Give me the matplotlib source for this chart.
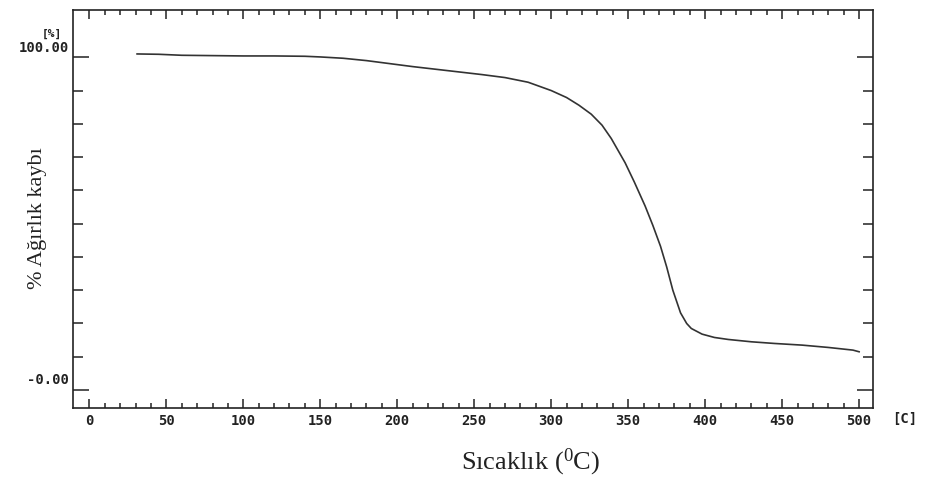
import matplotlib.pyplot as plt
from matplotlib.ticker import FixedLocator, NullFormatter

# TGA curve (temperature in C, weight in %)
temp = [31, 45, 60, 80, 100, 120, 140, 150, 165, 180, 195, 210, 225, 240,
        255, 270, 285, 300, 310, 318, 326, 333, 339, 348, 354, 361, 366,
        371, 375, 379, 384, 388, 391, 398, 406, 415, 430, 445, 463, 480,
        496, 500]
weight = [101.0, 100.9, 100.6, 100.5, 100.4, 100.4, 100.3, 100.1, 99.7,
          99.0, 98.1, 97.2, 96.4, 95.6, 94.8, 93.9, 92.5, 90.0, 87.9, 85.6,
          82.9, 79.6, 75.6, 68.3, 62.5, 55.3, 49.5, 43.2, 37.0, 30.0, 23.2,
          20.0, 18.5, 16.8, 15.8, 15.2, 14.5, 14.0, 13.5, 12.8, 12.0, 11.5]

x_major = list(range(0, 501, 50))
x_minor = list(range(0, 501, 10))
y_major = [0, 100]
y_minor = list(range(10, 100, 10))
y_labels = {100: '100.00', 0: '-0.00'}

ink = '#222222'
mono = dict(family='DejaVu Sans Mono', fontweight='bold', color=ink)

plt.rcParams['mathtext.fontset'] = 'custom'
plt.rcParams['mathtext.rm'] = 'Liberation Serif'

fig = plt.figure(figsize=(9.28, 4.82), dpi=100)
ax = fig.add_axes([0.0787, 0.1535, 0.862, 0.8257])

ax.plot(temp, weight, color='#333333', lw=1.2, solid_joinstyle='round')

ax.set_xlim(-10.6, 509)
ax.set_ylim(-5.4, 114.2)

for s in ax.spines.values():
    s.set_linewidth(1.2)
    s.set_color(ink)

ax.xaxis.set_major_locator(FixedLocator(x_major))
ax.xaxis.set_minor_locator(FixedLocator(x_minor))
ax.yaxis.set_major_locator(FixedLocator(y_major))
ax.yaxis.set_minor_locator(FixedLocator(y_minor))
ax.yaxis.set_major_formatter(NullFormatter())
ax.set_xticklabels([str(v) for v in x_major])

ax.tick_params(axis='x', which='both', direction='in', top=True, bottom=True,
               color=ink, width=1.1)
ax.tick_params(axis='x', which='major', length=6.5, pad=4, labelsize=10)
ax.tick_params(axis='x', which='minor', length=3.6)
ax.tick_params(axis='y', which='both', direction='in', left=True, right=True,
               color=ink, width=1.1)
ax.tick_params(axis='y', which='major', length=11.5)
ax.tick_params(axis='y', which='minor', length=7)
for lab in ax.get_xticklabels():
    lab.set_fontfamily('DejaVu Sans Mono')
    lab.set_fontweight('bold')
    lab.set_color(ink)

# y labels sit a little above their ticks, like the instrument printout
for val, txt in y_labels.items():
    ax.annotate(txt, xy=(0, val), xycoords=('axes fraction', 'data'),
                xytext=(-3, 7), textcoords='offset points',
                ha='right', va='center', fontsize=10, **mono)

ax.annotate('[%]', xy=(0, 100), xycoords=('axes fraction', 'data'),
            xytext=(-8, 17), textcoords='offset points',
            ha='right', va='center', fontsize=8, **mono)
ax.annotate('[C]', xy=(1, 0), xycoords='axes fraction',
            xytext=(14, -8), textcoords='offset points',
            ha='left', va='center', fontsize=10, **mono)

fig.text(0.040, 0.548, '% Ağırlık kaybı', rotation=90, ha='center',
         va='center', family='Liberation Serif', fontsize=16, color=ink)
fig.text(0.572, 0.040, r'Sıcaklık ($\mathregular{^0}$C)', ha='center',
         va='center', family='Liberation Serif', fontsize=19, color=ink)

fig.savefig('out.png', dpi=100, facecolor='white')
